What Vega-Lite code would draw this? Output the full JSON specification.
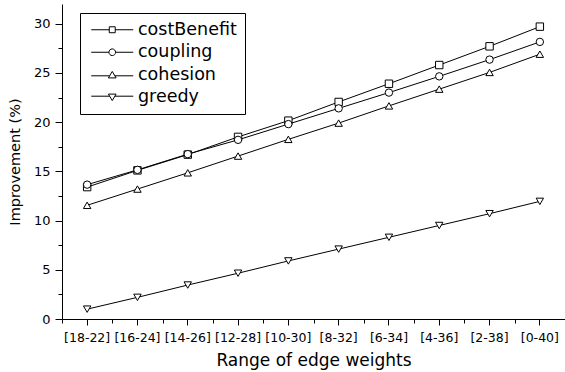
{
  "$schema": "https://vega.github.io/schema/vega-lite/v6.json",
  "width": 503,
  "height": 315,
  "autosize": "none",
  "padding": {"left": 62, "top": 4, "right": 0, "bottom": 53},
  "background": "white",
  "config": {
    "view": {"stroke": null},
    "font": "DejaVu Sans",
    "axis": {"grid": false, "domainColor": "black", "tickColor": "black", "labelColor": "black", "titleColor": "black", "labelFont": "DejaVu Sans", "titleFont": "DejaVu Sans", "titleFontWeight": "normal", "domainWidth": 1, "tickWidth": 1}
  },
  "data": {
    "values": [
      {"range": "[18-22]", "series": "costBenefit", "value": 13.4},
      {"range": "[16-24]", "series": "costBenefit", "value": 15.1},
      {"range": "[14-26]", "series": "costBenefit", "value": 16.7},
      {"range": "[12-28]", "series": "costBenefit", "value": 18.5},
      {"range": "[10-30]", "series": "costBenefit", "value": 20.15},
      {"range": "[8-32]", "series": "costBenefit", "value": 22.05},
      {"range": "[6-34]", "series": "costBenefit", "value": 23.9},
      {"range": "[4-36]", "series": "costBenefit", "value": 25.8},
      {"range": "[2-38]", "series": "costBenefit", "value": 27.7},
      {"range": "[0-40]", "series": "costBenefit", "value": 29.7},
      {"range": "[18-22]", "series": "coupling", "value": 13.65},
      {"range": "[16-24]", "series": "coupling", "value": 15.15},
      {"range": "[14-26]", "series": "coupling", "value": 16.75},
      {"range": "[12-28]", "series": "coupling", "value": 18.2},
      {"range": "[10-30]", "series": "coupling", "value": 19.8},
      {"range": "[8-32]", "series": "coupling", "value": 21.4},
      {"range": "[6-34]", "series": "coupling", "value": 23.0},
      {"range": "[4-36]", "series": "coupling", "value": 24.65},
      {"range": "[2-38]", "series": "coupling", "value": 26.35},
      {"range": "[0-40]", "series": "coupling", "value": 28.15},
      {"range": "[18-22]", "series": "cohesion", "value": 11.55},
      {"range": "[16-24]", "series": "cohesion", "value": 13.2},
      {"range": "[14-26]", "series": "cohesion", "value": 14.85},
      {"range": "[12-28]", "series": "cohesion", "value": 16.55},
      {"range": "[10-30]", "series": "cohesion", "value": 18.25},
      {"range": "[8-32]", "series": "cohesion", "value": 19.9},
      {"range": "[6-34]", "series": "cohesion", "value": 21.65},
      {"range": "[4-36]", "series": "cohesion", "value": 23.35},
      {"range": "[2-38]", "series": "cohesion", "value": 25.05},
      {"range": "[0-40]", "series": "cohesion", "value": 26.9},
      {"range": "[18-22]", "series": "greedy", "value": 1.0},
      {"range": "[16-24]", "series": "greedy", "value": 2.2},
      {"range": "[14-26]", "series": "greedy", "value": 3.45},
      {"range": "[12-28]", "series": "greedy", "value": 4.65},
      {"range": "[10-30]", "series": "greedy", "value": 5.9},
      {"range": "[8-32]", "series": "greedy", "value": 7.1},
      {"range": "[6-34]", "series": "greedy", "value": 8.3},
      {"range": "[4-36]", "series": "greedy", "value": 9.5},
      {"range": "[2-38]", "series": "greedy", "value": 10.7},
      {"range": "[0-40]", "series": "greedy", "value": 11.95}
    ]
  },
  "layer": [
    {
      "mark": {"type": "line", "color": "black", "strokeWidth": 1},
      "encoding": {
        "x": {
          "field": "range", "type": "nominal",
          "scale": {"type": "band", "paddingInner": 0, "paddingOuter": 0, "domain": ["[18-22]", "[16-24]", "[14-26]", "[12-28]", "[10-30]", "[8-32]", "[6-34]", "[4-36]", "[2-38]", "[0-40]"]},
          "axis": {"orient": "bottom", "title": "Range of edge weights", "titleFontSize": 17, "titlePadding": 9, "labelFontSize": 12.5, "labelAngle": 0, "labelPadding": 6, "tickSize": 6}
        },
        "y": {
          "field": "value", "type": "quantitative",
          "scale": {"domain": [0, 32], "nice": false},
          "axis": {"orient": "left", "values": [0, 5, 10, 15, 20, 25, 30], "title": "Improvement (%)", "titleFontSize": 14.5, "titlePadding": 11, "labelFontSize": 13, "labelPadding": 5, "tickSize": 7}
        },
        "detail": {"field": "series", "type": "nominal"}
      }
    },
    {
      "mark": {"type": "point", "filled": true, "fill": "white", "stroke": "black", "strokeWidth": 1, "opacity": 1, "size": 55},
      "encoding": {
        "x": {
          "field": "range", "type": "nominal",
          "axis": {"orient": "bottom", "title": null, "labels": false, "domain": false, "tickBand": "extent", "tickSize": 4}
        },
        "y": {
          "field": "value", "type": "quantitative",
          "axis": {"orient": "left", "title": null, "labels": false, "domain": false, "values": [2.5, 7.5, 12.5, 17.5, 22.5, 27.5], "tickSize": 4}
        },
        "shape": {
          "field": "series", "type": "nominal",
          "scale": {"domain": ["costBenefit", "coupling", "cohesion", "greedy"], "range": ["square", "circle", "triangle-up", "triangle-down"]},
          "legend": null
        }
      }
    },
    {
      "transform": [{"filter": "false"}],
      "mark": {"type": "point", "filled": false, "color": "black", "strokeWidth": 1, "opacity": 1},
      "encoding": {
        "shape": {
          "field": "series", "type": "nominal",
          "scale": {
            "domain": ["costBenefit", "coupling", "cohesion", "greedy"],
            "range": [
              "M-6,0H-0.85M0.85,0H6M-0.85,-0.85H0.85V0.85H-0.85Z",
              "M-6,0H-0.95M0.95,0H6M0.95,0A0.95,0.95 0 1,1 -0.95,0A0.95,0.95 0 1,1 0.95,0Z",
              "M-6,0.3H-0.75M0.75,0.3H6M0,-0.95L1.1,0.9H-1.1Z",
              "M-6,-0.3H-0.75M0.75,-0.3H6M0,0.95L1.1,-0.9H-1.1Z"
            ]
          },
          "legend": {
            "title": null, "orient": "none", "legendX": 18, "legendY": 9,
            "padding": 8, "strokeColor": "black", "fillColor": "white", "cornerRadius": 0,
            "labelFont": "DejaVu Sans", "labelFontSize": 17.5, "labelColor": "black",
            "symbolSize": 49, "symbolStrokeColor": "black", "symbolFillColor": "transparent", "symbolStrokeWidth": 1, "symbolOpacity": 1,
            "symbolOffset": 15.5, "labelOffset": 17, "rowPadding": 3.5
          }
        }
      }
    }
  ],
  "resolve": {
    "scale": {"shape": "independent"},
    "axis": {"x": "independent", "y": "independent"}
  }
}
